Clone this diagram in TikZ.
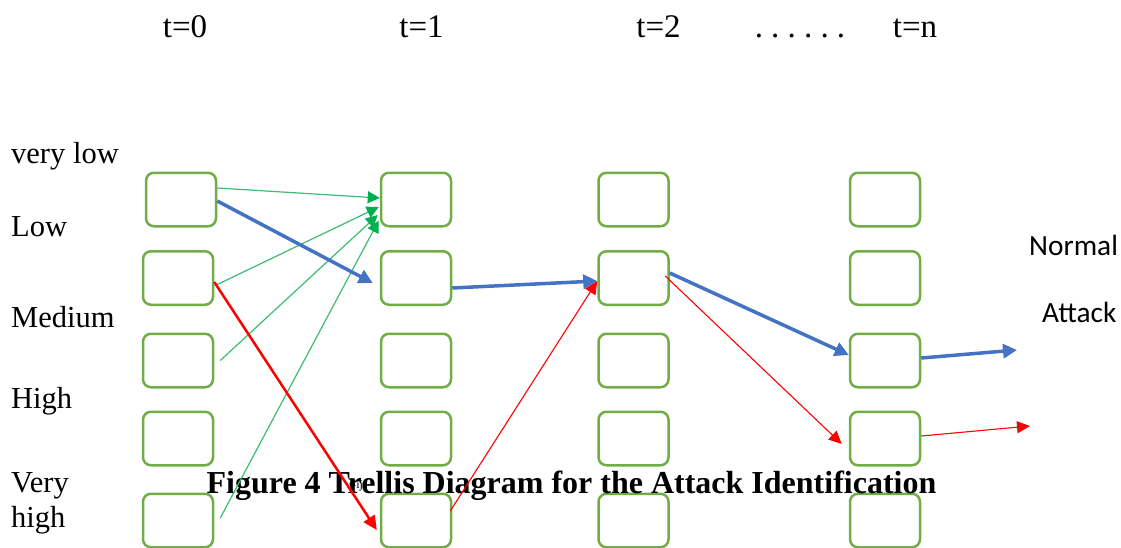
\documentclass[tikz,border=0pt]{standalone}
\usepackage{fontspec}
\setmainfont{Liberation Serif}
\newfontfamily\labelsans{Carlito}
\usetikzlibrary{arrows.meta}

\definecolor{cellgreen}{RGB}{112,173,71}
\definecolor{pathblue}{RGB}{68,114,196}
\definecolor{pathred}{RGB}{255,0,0}
\definecolor{linkgreen}{RGB}{60,188,115}
\definecolor{tipgreen}{RGB}{0,176,80}

\tikzset{
  cell/.style={draw=cellgreen, line width=2.5pt, rounded corners=8pt,
    minimum width=70pt, minimum height=53.5pt, inner sep=0pt},
  statelabel/.style={anchor=base west, font=\fontsize{30.5}{35}\selectfont,
    inner sep=0pt, align=left},
  timelabel/.style={anchor=base, font=\fontsize{33}{40}\selectfont, inner sep=0pt},
  outlabel/.style={anchor=base west, font=\labelsans\fontsize{29.3}{34}\selectfont, inner sep=0pt},
  greenlink/.style={draw=linkgreen, line width=1.2pt,
    -{Triangle[length=12pt,width=12pt,color=tipgreen]}},
  bluepath/.style={draw=pathblue, line width=3.5pt,
    -{Triangle[length=14pt,width=14pt]}},
  redthick/.style={draw=pathred, line width=2.5pt,
    -{Triangle[length=14pt,width=13pt]}},
  redthin/.style={draw=pathred, line width=1.1pt,
    -{Triangle[length=13pt,width=12pt]}},
}

\begin{document}
\begin{tikzpicture}[x=1pt, y=-1pt]
\useasboundingbox (0,0) rectangle (1121,547);

% time step headings
\node[timelabel] (t0) at (185,37) {t=0};
\node[timelabel] (t1) at (421.5,37) {t=1};
\node[timelabel] (t2) at (658.5,37) {t=2};
\node[timelabel] (tdots) at (800,37) {.\hspace{8.2pt}.\hspace{8.2pt}.\hspace{8.2pt}.\hspace{8.2pt}.\hspace{8.2pt}.};
\node[timelabel] (tn) at (915,37) {t=n};

% state names
\node[statelabel] (s0) at (11,163) {very low};
\node[statelabel] (s1) at (11,236) {Low};
\node[statelabel] (s2) at (11,327) {Medium};
\node[statelabel] (s3) at (11,408) {High};
\node[statelabel] (s4) at (11,527) {Very\\high};

% output classes
\node[outlabel] (normal) at (1029,255) {Normal};
\node[outlabel] (attack) at (1042,322) {Attack};

% trellis cells: column t=0
\node[cell] (b00) at (181,199.5) {};
\node[cell] (b01) at (178,278) {};
\node[cell] (b02) at (178,360.5) {};
\node[cell] (b03) at (178,438.5) {};
\node[cell] (b04) at (178,520.5) {};
% column t=1
\node[cell] (b10) at (416,199.5) {};
\node[cell] (b11) at (416,278) {};
\node[cell] (b12) at (416,360.5) {};
\node[cell] (b13) at (416,438.5) {};
\node[cell] (b14) at (416,520.5) {};
% column t=2
\node[cell] (b20) at (633.5,199.5) {};
\node[cell] (b21) at (633.5,278) {};
\node[cell] (b22) at (633.5,360.5) {};
\node[cell] (b23) at (633.5,438.5) {};
\node[cell] (b24) at (633.5,520.5) {};
% column t=n
\node[cell] (b30) at (885,199.5) {};
\node[cell] (b31) at (885,278) {};
\node[cell] (b32) at (885,360.5) {};
\node[cell] (b33) at (885,438.5) {};
\node[cell] (b34) at (885,520.5) {};

% caption
\node[anchor=base, inner sep=0pt, font=\bfseries\fontsize{32}{38}\selectfont]
  (caption) at (571.5,493) {Figure 4 Trellis Diagram for the Attack Identification};
\node[anchor=base west, inner sep=0pt, font=\fontsize{16}{18}\selectfont]
  (aij) at (349,486) {a\textsubscript{\fontsize{12}{14}\selectfont ij}};

% free ends of the final transitions
\coordinate (outN) at (1017,350);
\coordinate (outA) at (1030,426);

% transitions into the first cell at t=1
\draw[greenlink] ([yshift=11.5pt]b00.east) -- ([yshift=1.5pt]b10.west);
\draw[greenlink] ([xshift=2pt,yshift=-7pt]b01.east) -- ([yshift=-7.5pt,xshift=-1pt]b10.west);
\draw[greenlink] ([xshift=6pt]b02.east) -- ([yshift=-15.5pt,xshift=-2pt]b10.west);
\draw[greenlink] ([xshift=6pt,yshift=2.5pt]b04.east) -- ([yshift=-21pt,xshift=-1pt]b10.west);

% normal path
\draw[bluepath] ([yshift=-1.5pt]b00.east) -- ([xshift=-7pt,yshift=-5pt]b11.west);
\draw[bluepath] ([yshift=-10pt]b11.east) -- ([yshift=-3pt]b21.west);
\draw[bluepath] ([yshift=5pt]b21.east) -- ([yshift=5.5pt]b32.west);
\draw[bluepath] ([yshift=2.5pt]b32.east) -- (outN);

% attack path
\draw[redthick] ([yshift=-4pt]b01.east) -- ([xshift=-3pt,yshift=-9.5pt]b14.west);
\draw[redthin] ([xshift=-2pt,yshift=9.5pt]b14.east) -- ([yshift=-3pt]b21.west);
\draw[redthin] ([xshift=-4.5pt,yshift=2pt]b21.east) -- ([xshift=-7pt,yshift=-5.5pt]b33.west);
\draw[redthin] ([yshift=2.5pt]b33.east) -- (outA);
\end{tikzpicture}
\end{document}
